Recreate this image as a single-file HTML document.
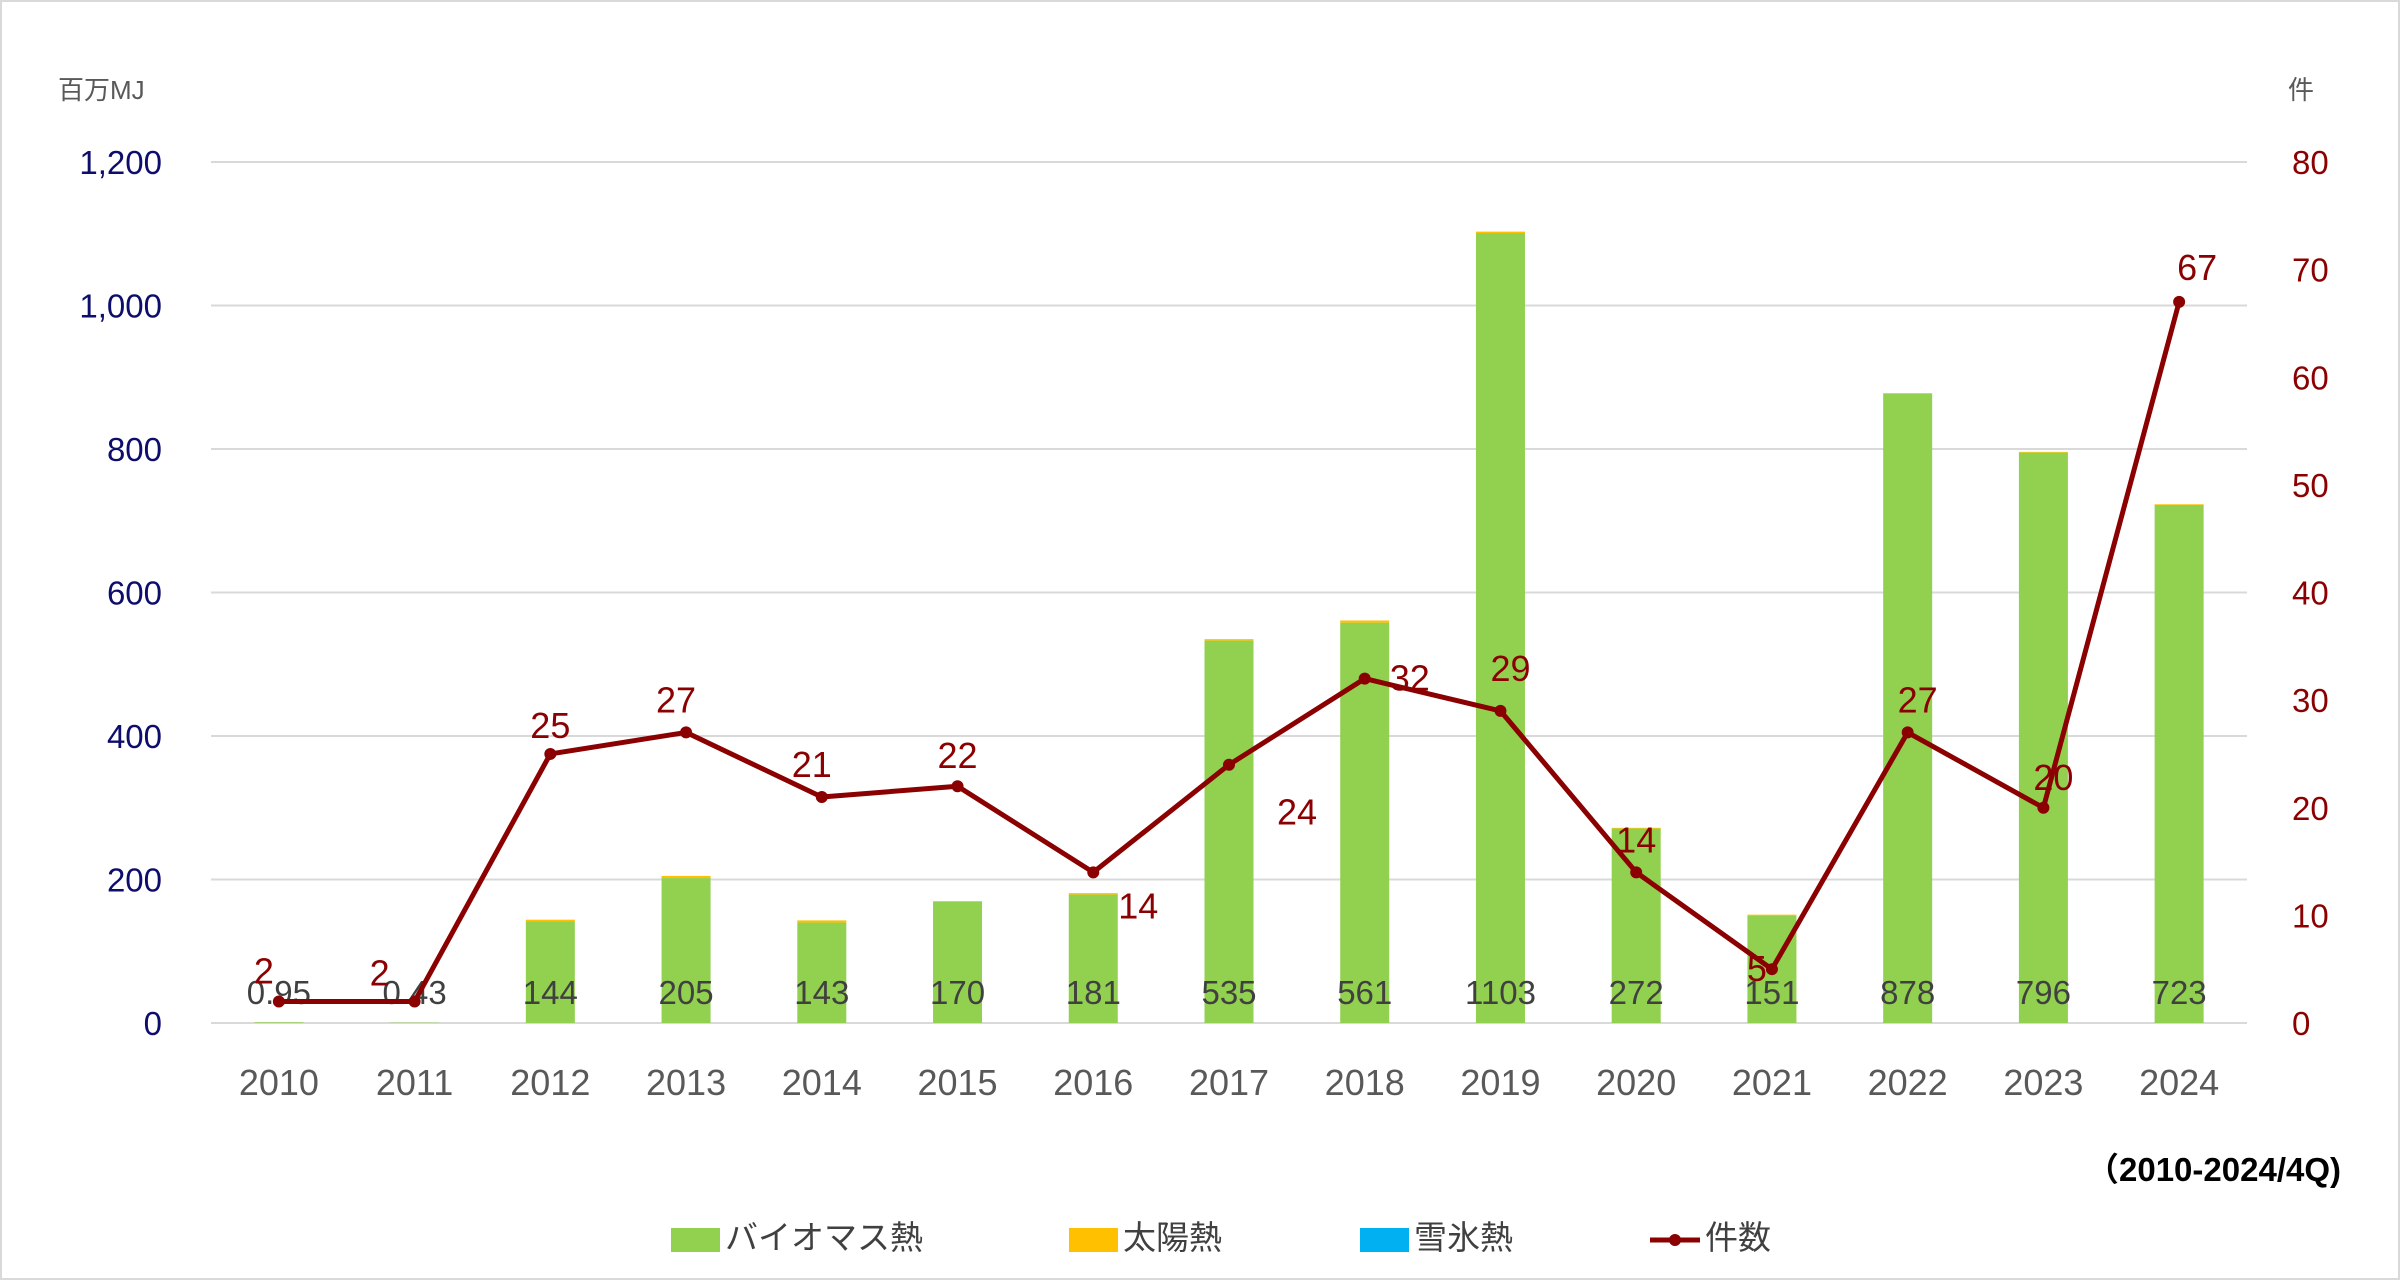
<!DOCTYPE html>
<html><head><meta charset="utf-8">
<style>
html,body{margin:0;padding:0;background:#fff;}
svg{display:block;font-family:"Liberation Sans","Noto Sans CJK JP",sans-serif;}
</style></head>
<body>
<svg id="chart" width="2400" height="1280" viewBox="0 0 2400 1280" xmlns="http://www.w3.org/2000/svg">
<rect x="1" y="1" width="2398" height="1278" fill="#fff" stroke="#d9d9d9" stroke-width="2"/>
<g id="grid"></g>
<g id="bars"></g>
<g id="barlabels"></g>
<g id="line"></g>
<g id="axes"></g>
<text x="58" y="99" font-size="26" fill="#595959">百万MJ</text>
<text x="2288" y="99" font-size="26" fill="#595959">件</text>
<text x="2341" y="1181" font-size="33" font-weight="bold" fill="#000" text-anchor="end">（2010-2024/4Q)</text>
<g>
  <g>
    <rect x="671" y="1228" width="49" height="24" fill="#92d050"/>
    <text x="725" y="1249" font-size="33" fill="#404040">バイオマス熱</text>
  </g>
  <g>
    <rect x="1069" y="1228" width="49" height="24" fill="#ffc000"/>
    <text x="1123" y="1249" font-size="33" fill="#404040">太陽熱</text>
  </g>
  <g>
    <rect x="1360" y="1228" width="49" height="24" fill="#00b0f0"/>
    <text x="1414" y="1249" font-size="33" fill="#404040">雪氷熱</text>
  </g>
  <g>
    <line x1="1650" y1="1240" x2="1700" y2="1240" stroke="#8b0000" stroke-width="5"/>
    <circle cx="1675" cy="1240" r="6" fill="#8b0000"/>
    <text x="1705" y="1249" font-size="33" fill="#404040">件数</text>
  </g>
</g>
</svg>
<script>
const years = ["2010","2011","2012","2013","2014","2015","2016","2017","2018","2019","2020","2021","2022","2023","2024"];
const biomass = [0.95,0.43,142,202,140,169,179,533,558,1101,271,150,877,795,722];
const solar = [0,0,2,3,3,1,2,2,3,2,1,1,1,1,1];
const snowIce = [0,0,0,0,0,0,0,0,0,0,0,0,0,0,0];
const totalLabels = ["0.95","0.43","144","205","143","170","181","535","561","1103","272","151","878","796","723"];
const counts = [2,2,25,27,21,22,14,24,32,29,14,5,27,20,67];
const leftTicks = [0,200,400,600,800,1000,1200];
const rightTicks = [0,10,20,30,40,50,60,70,80];

const NS = "http://www.w3.org/2000/svg";
const plotL = 211, plotR = 2247, plotTop = 162, plotBot = 1023;
const leftMax = 1200, rightMax = 80;
const step = (plotR - plotL) / years.length;
const barW = 49;
function xC(i){ return plotL + step*(i+0.5); }
function yL(v){ return plotBot - (v/leftMax)*(plotBot-plotTop); }
function yR(v){ return plotBot - (v/rightMax)*(plotBot-plotTop); }
function mk(tag, attrs, parent, txt){
  const e = document.createElementNS(NS, tag);
  for (const k in attrs) e.setAttribute(k, attrs[k]);
  if (txt !== undefined) e.textContent = txt;
  parent.appendChild(e);
  return e;
}
const grid = document.getElementById('grid');
const axes = document.getElementById('axes');
leftTicks.forEach(function(t){
  const g = mk('line',{x1:plotL,x2:plotR,y1:yL(t),y2:yL(t),stroke:"#d9d9d9","stroke-width":2},grid);
  
  
  const l = mk('text',{x:162,y:yL(t)+12,"font-size":33,fill:"#0d0d6b","text-anchor":"end"},axes,t.toLocaleString('en-US'));
  
  
});
rightTicks.forEach(function(t){
  const l = mk('text',{x:2292,y:yR(t)+12,"font-size":33,fill:"#8b0000"},axes,String(t));
  
  
});
years.forEach(function(y,i){
  const l = mk('text',{x:xC(i),y:1095,"font-size":36,fill:"#595959","text-anchor":"middle"},axes,y);
  
  
});
const bars = document.getElementById('bars');
const bl = document.getElementById('barlabels');
years.forEach(function(y,i){
  let base = 0;
  [[biomass,"#92d050","bar-biomass"],[solar,"#ffc000","bar-solar"],[snowIce,"#00b0f0","bar-snow-ice"]].forEach(function(s){
    const v = s[0][i];
    if (v > 0){
      const r = mk('rect',{x:xC(i)-barW/2,y:yL(base+v),width:barW,height:yL(base)-yL(base+v),fill:s[1]},bars);
      
      
    }
    base += v;
  });
  const t = mk('text',{x:xC(i),y:1004,"font-size":33,fill:"#404040","text-anchor":"middle"},bl,totalLabels[i]);
  
  
});
const lg = document.getElementById('line');
const pts = counts.map(function(c,i){ return xC(i)+","+yR(c); }).join(" ");
const pl = mk('polyline',{points:pts,fill:"none",stroke:"#8b0000","stroke-width":5,"stroke-linejoin":"round"},lg);


const offs = [[-15,-30],[-35,-28],[0,-28],[-10,-32],[-10,-32],[0,-30],[45,34],[68,48],[45,0],[10,-42],[0,-32],[-15,0],[10,-32],[10,-30],[18,-34]];
counts.forEach(function(c,i){
  const m = mk('circle',{cx:xC(i),cy:yR(c),r:6,fill:"#8b0000"},lg);
  
  
  const t = mk('text',{x:xC(i)+offs[i][0],y:yR(c)+offs[i][1]+12,"font-size":36,fill:"#8b0000","text-anchor":"middle"},lg,String(c));
  
  
});
</script>
</body></html>
